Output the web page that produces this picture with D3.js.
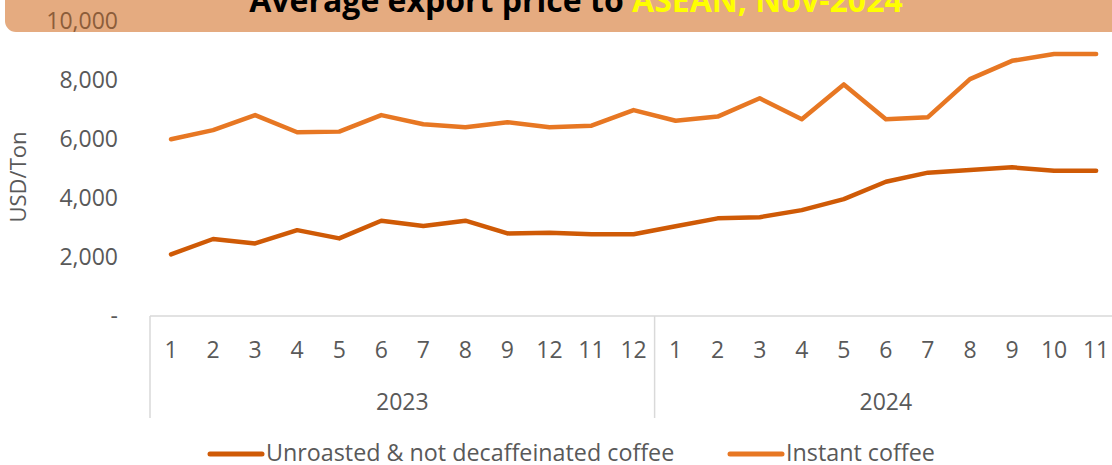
<!DOCTYPE html>
<html>
<head>
<meta charset="utf-8">
<script src="https://cdn.jsdelivr.net/npm/d3@7"></script>
<style>
  html, body { margin: 0; padding: 0; background: #fff; }
  svg { display: block; font-family: "Open Sans", "Noto Sans", sans-serif; }
</style>
</head>
<body>
<svg id="chart" width="1112" height="465"></svg>
<script>
// ---- data ----
const months = ["1","2","3","4","5","6","7","8","9","12","11","12",
                "1","2","3","4","5","6","7","8","9","10","11"];
const yearLabels = ["2023", "2024"];
const yearCounts = [12, 11];
const unroasted = [2090, 2610, 2460, 2910, 2630, 3230, 3050, 3230, 2800, 2820, 2770, 2770,
                   3040, 3310, 3350, 3590, 3960, 4550, 4860, 4950, 5040, 4920, 4920];
const instant   = [5990, 6300, 6810, 6230, 6250, 6810, 6500, 6400, 6570, 6400, 6450, 6980,
                   6620, 6760, 7380, 6670, 7850, 6670, 6740, 8030, 8650, 8880, 8880];
const seriesNames = ["Unroasted & not decaffeinated coffee", "Instant coffee"];
const yTicks = [0, 2000, 4000, 6000, 8000, 10000];
const titleMain = "Average export price to ";
const titleHighlight = "ASEAN, Nov-2024";
const yAxisTitle = "USD/Ton";

// ---- layout ----
const svg = d3.select("#chart");
const bandW = 42.05;
const x0 = 150;
const x = d3.scaleBand().domain(d3.range(months.length)).range([x0, x0 + bandW * months.length]);
const y = d3.scaleLinear().domain([0, 10000]).range([316, 21]);
const colors = ["#CF5A06", "#E77723"];
const textColor = "#595959";
const gridColor = "#D9D9D9";

// y tick labels
svg.append("g").selectAll("text").data(yTicks.slice(0, -1)).join("text")
  .attr("x", 118).attr("y", d => y(d) + 8)
  .attr("text-anchor", "end").attr("font-size", 23).attr("fill", textColor)
  .text(d => d === 0 ? "-" : d3.format(",")(d));

// y axis title
svg.append("text")
  .attr("transform", `translate(26,177) rotate(-90)`)
  .attr("text-anchor", "middle").attr("font-size", 22).attr("fill", textColor)
  .text(yAxisTitle);

// category axis box
const axisTop = y(0), axisBottom = 418;
svg.append("line").attr("x1", x0).attr("x2", x.range()[1]).attr("y1", axisTop).attr("y2", axisTop)
  .attr("stroke", gridColor).attr("stroke-width", 1.5);
let cum = 0;
const bounds = [0];
yearCounts.forEach(c => { cum += c; bounds.push(cum); });
svg.append("g").selectAll("line").data(bounds).join("line")
  .attr("x1", d => x0 + d * bandW).attr("x2", d => x0 + d * bandW)
  .attr("y1", axisTop).attr("y2", axisBottom)
  .attr("stroke", gridColor).attr("stroke-width", 1.5);

// month labels
svg.append("g").selectAll("text").data(months).join("text")
  .attr("x", (d, i) => x(i) + x.bandwidth() / 2).attr("y", 358)
  .attr("text-anchor", "middle").attr("font-size", 23).attr("fill", textColor)
  .text(d => d);

// year labels
svg.append("g").selectAll("text").data(yearLabels).join("text")
  .attr("x", (d, i) => x0 + (bounds[i] + bounds[i + 1]) / 2 * bandW).attr("y", 410)
  .attr("text-anchor", "middle").attr("font-size", 23).attr("fill", textColor)
  .text(d => d);

// lines
const line = d3.line().x((d, i) => x(i) + x.bandwidth() / 2).y(d => y(d));
[unroasted, instant].forEach((s, k) => {
  svg.append("path").datum(s).attr("d", line)
    .attr("fill", "none").attr("stroke", colors[k]).attr("stroke-width", 4.5)
    .attr("stroke-linejoin", "round").attr("stroke-linecap", "round");
});

// title bar
svg.append("rect").attr("x", 5).attr("y", -20).attr("width", 1130).attr("height", 52)
  .attr("rx", 11).attr("fill", "#E5AB80");
svg.append("text").attr("x", 118).attr("y", y(10000) + 8)
  .attr("text-anchor", "end").attr("font-size", 23).attr("fill", "#8C5D3A")
  .text(d3.format(",")(10000));
const title = svg.append("text").attr("x", 576).attr("y", 12)
  .attr("text-anchor", "middle").attr("font-size", 32).attr("font-weight", "bold");
title.append("tspan").attr("fill", "#000").text(titleMain);
title.append("tspan").attr("fill", "#FFFF00").text(titleHighlight);

// legend
const legendX = [208, 728];
seriesNames.forEach((name, k) => {
  const g = svg.append("g").attr("transform", `translate(${legendX[k]},454)`);
  g.append("line").attr("x1", 2).attr("x2", 54).attr("y1", 0).attr("y2", 0)
    .attr("stroke", colors[k]).attr("stroke-width", 5).attr("stroke-linecap", "round");
  g.append("text").attr("x", 58).attr("y", 7).attr("font-size", 23.3).attr("fill", textColor)
    .text(name);
});
</script>
</body>
</html>
